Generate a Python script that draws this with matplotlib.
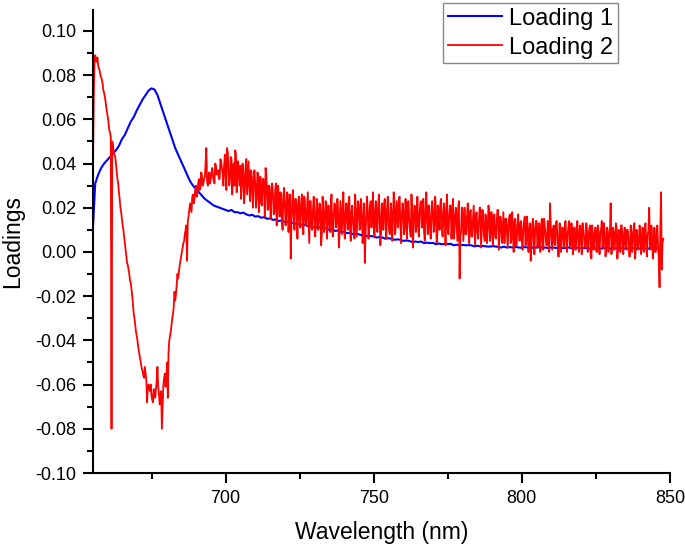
import numpy as np
import matplotlib
matplotlib.use("Agg")
import matplotlib.pyplot as plt
from matplotlib.ticker import MultipleLocator, FuncFormatter

plt.rcParams['font.family'] = ['Liberation Sans', 'DejaVu Sans']

# loading 1 (smooth), thousandths, sampled every 1 nm from 655 nm
loading1 = [
    5, 31, 35, 38, 40, 41.5, 43, 44.5, 46, 48,
    51, 53, 56, 59, 61, 64, 66.5, 69, 71, 73,
    74, 73.5, 71, 67, 63, 59, 55, 51, 47, 44,
    41, 38, 35, 32, 30, 28.5, 27, 25.5, 24, 23,
    22, 21, 20.5, 20, 19.5, 19, 18.5, 19, 18, 18,
    17.5, 17.8, 17, 16.5, 16.8, 16, 16.2, 15.5, 15.7, 15,
    15.2, 14.5, 14.7, 14, 14.2, 13.5, 13.7, 13, 13.2, 12.5,
    12.7, 12, 12.2, 11.5, 11.7, 11, 11.2, 11, 10.5, 10.7,
    10, 10.2, 9.5, 9.7, 9, 9.2, 8.5, 8.7, 8, 8.2,
    8, 7.5, 7.7, 7, 7.2, 7, 6.5, 6.8, 6.5, 6,
    6.2, 6, 5.5, 5.7, 5.5, 5, 5.2, 5, 4.5, 4.7,
    4.5, 4.7, 4, 4.2, 4, 4.1, 3.5, 3.8, 3.5, 3.6,
    3.5, 3.7, 3, 3.3, 3, 3.2, 3, 3.1, 3, 2.5,
    2.8, 2.5, 2.7, 2.5, 2.4, 2.6, 2.5, 2.3, 2, 2.4,
    2, 2.2, 2, 2.3, 2, 1.9, 2.2, 2, 2.1, 1.8,
    2, 2.2, 1.9, 2, 1.7, 2.1, 1.9, 1.8, 2, 1.7,
    1.9, 2, 1.6, 1.8, 1.9, 1.6, 1.8, 1.7, 1.5, 1.8,
    1.6, 1.7, 1.5, 1.8, 1.6, 1.5, 1.7, 1.6, 1.4, 1.7,
    1.5, 1.6, 1.4, 1.7, 1.5, 1.6, 1.4, 1.5, 1.6, 1.5,
    1.4, 1.6, 1.5,
]

# loading 2 (noisy), thousandths, sampled every 0.5 nm from 655 nm
loading2 = [
    10, 70, 89, 86, 84, 82, 79, 76, 72, 68,
    63, 58, 54, -80, 48, 44, 40, 33, 27, 20,
    15, 10, 4, -2, -6, -10, -14, -20, -28, -33,
    -38, -43, -47, -51, -54, -57, -55, -68, -60, -63,
    -65, -68, -64, -62, -52, -64, -66, -80, -60, -55,
    -58, -66, -40, -36, -30, -25, -22, -15, -12, -6,
    -2, 2, 5, 10, -4, 16, 22, 18, 26, 24,
    30, 27, 33, 29, 35, 31, 34, 47, 30, 36,
    33, 38, 32, 40, 35, 37, 33, 41, 36, 39,
    35, 47, 38, 33, 42, 36, 30, 44, 37, 34,
    39, 31, 36, 28, 42, 33, 30, 37, 26, 34,
    31, 24, 35, 29, 22, 33, 27, 38, 25, 30,
    21, 29, 26, 18, 31, 24, 20, 27, 14, 25,
    22, 17, 26, 20, -3, 23, 16, 24, 19, 21,
    15, 22, 18, 25, 13, 20, 16, 23, 11, 19,
    17, 12, 21, 15, 19, 8, 18, 14, 22, 16,
    13, 19, 10, 17, 21, 14, 18, 9, 16, 20,
    12, 17, 15, 22, 11, 18, 14, 6, 19, 15,
    21, 13, 17, 10, -5, 16, 19, 12, 23, 15,
    14, 18, 11, 20, 16, 9, 17, 22, 13, 19,
    15, 8, 18, 14, 21, 12, 17, 24, 13, 16,
    19, 11, 16, 22, 14, 7, 18, 13, 20, 15,
    12, 17, 23, 14, 9, 19, 15, 21, 11, 16,
    18, 13, 20, 8, 15, 22, 12, 17, 14, 19,
    10, 16, 21, 13, 6, 17, 12, 19, -12, 9,
    20, 13, 8, 16, 11, 18, 7, 14, 12, 17,
    9, 13, 20, 10, 15, 5, 14, 11, 18, 8,
    13, 16, 7, 12, 19, 9, 14, 4, 11, 15,
    8, 12, 17, 6, 10, 14, 3, 12, 9, 13,
    6, 10, 16, 5, 11, 8, -4, 12, 7, 10,
    14, 4, 9, 12, 6, 15, 8, 3, 11, 22,
    7, 10, 4, 13, 8, -2, 11, 6, 9, 12,
    5, 8, 14, 3, 10, 7, 1, 11, 6, 9,
    4, 13, 7, 2, 10, 6, 12, -3, 8, 5,
    11, 7, 3, 9, 14, 4, 8, 1, 10, 6,
    22, 3, 9, 5, 11, 2, 7, 12, 4, 8,
    3, 10, 6, -2, 9, 5, 13, 2, 7, 4,
    9, 1, 7, 11, 3, 8, 20, 2, 6, 5,
    0, 9, 3, -16, 27, 4,
]

# loading 2 in-between samples, thousandths, every 0.5 nm from 655.25 nm
loading2_mid = [
    40, 85, 87, 88, 83, 80, 78, 73, 70, 65,
    61, 55, 52, 50, 45, 43, 36, 31, 24, 18,
    12, 7, 1, -5, -8, -13, -17, -24, -30, -36,
    -40, -45, -49, -53, -56, -52, -58, -61, -62, -60,
    -67, -62, -66, -58, -61, -69, -63, -70, -57, -61,
    -50, -45, -38, -33, -28, -18, -19, -10, -9, -4,
    0, 4, 8, 12, 14, 19, 20, 25, 22, 28,
    25, 31, 28, 36, 30, 33, 40, 32, 34, 31,
    36, 34, 31, 39, 36, 33, 42, 38, 30, 44,
    28, 45, 30, 43, 26, 40, 46, 27, 41, 30,
    24, 40, 22, 38, 26, 41, 23, 36, 20, 37,
    20, 36, 18, 34, 21, 33, 16, 35, 19, 30,
    15, 31, 17, 28, 12, 30, 16, 26, 10, 29,
    12, 27, 9, 26, 14, 28, 10, 24, 6, 25,
    11, 26, 8, 24, 12, 27, 4, 23, 10, 25,
    7, 24, 10, 22, 3, 25, 9, 23, 6, 21,
    9, 26, 7, 22, 11, 24, 2, 23, 8, 27,
    6, 22, 10, 25, 5, 21, 9, 26, 7, 23,
    10, 24, 4, 22, 8, 25, 6, 21, 11, 27,
    7, 23, 9, 26, 3, 22, 10, 24, 6, 25,
    9, 22, 5, 27, 8, 23, 11, 25, 4, 22,
    8, 24, 6, 23, 10, 26, 2, 21, 9, 25,
    7, 22, 11, 24, 5, 27, 8, 21, 6, 23,
    9, 25, 4, 21, 10, 24, 7, 22, 3, 26,
    8, 21, 6, 24, 9, 20, 5, 23, 7, 20,
    5, 20, 8, 22, 4, 19, 7, 21, 3, 18,
    6, 20, 2, 19, 7, 17, 4, 21, 5, 18,
    3, 17, 6, 19, 1, 16, 5, 18, 4, 15,
    2, 16, 4, 18, 0, 15, 3, 17, 5, 14,
    1, 14, 3, 16, 0, 13, 2, 15, -1, 14,
    2, 13, 0, 15, 1, 12, 3, 14, 0, 13,
    1, 12, 3, 14, -2, 13, 0, 11, 2, 14,
    0, 12, 2, 13, -1, 11, 1, 14, 0, 12,
    -1, 11, 2, 13, 0, 10, -2, 12, 1, 11,
    0, 12, -1, 10, 2, 13, -2, 11, 0, 10,
    -1, 11, 1, 13, -3, 10, 0, 12, -1, 11,
    1, 10, -2, 12, 0, 11, -3, 10, 1, 12,
    -1, 11, 0, 13, -2, 10, 1, 12, -3, 11,
    0, 12, -4, 10, -8, 6,
]

y1 = np.array(loading1) / 1000
x1 = 655 + 1.0 * np.arange(len(y1))

xa = 655 + 0.5 * np.arange(len(loading2))
xb = 655.25 + 0.5 * np.arange(len(loading2_mid))
x2 = np.concatenate([xa, xb])
y2 = np.concatenate([loading2, loading2_mid]) / 1000
order = np.argsort(x2)
x2, y2 = x2[order], y2[order]

fig = plt.figure(figsize=(6.85, 5.5), dpi=100)
ax = fig.add_axes([0.136, 0.14, 0.842, 0.842])

ax.plot(x1, y1, color='#0000ff', linewidth=1.5, label='Loading 1')
ax.plot(x2, y2, color='#ff0000', linewidth=1.3, label='Loading 2')

ax.set_xlim(655.3, 850)
ax.set_ylim(-0.10, 0.1095)
ax.xaxis.set_major_locator(MultipleLocator(50))
ax.xaxis.set_minor_locator(MultipleLocator(25))
ax.yaxis.set_major_locator(MultipleLocator(0.02))
ax.yaxis.set_minor_locator(MultipleLocator(0.01))
ax.yaxis.set_major_formatter(FuncFormatter(lambda v, p: f"{v:.2f}".replace("-0.00", "0.00")))

for s in ['top', 'right']:
    ax.spines[s].set_visible(False)
for s in ['left', 'bottom']:
    ax.spines[s].set_linewidth(1.5)
ax.tick_params(which='major', length=7, width=1.5, labelsize=13, pad=5)
ax.tick_params(which='minor', length=4, width=1.5)

ax.set_xlabel('Wavelength (nm)', fontsize=16.5, labelpad=10)
ax.set_ylabel('Loadings', fontsize=16.5, labelpad=8)

leg = ax.legend(loc='upper right', bbox_to_anchor=(0.91, 1.015), borderaxespad=0,
                fontsize=17, fancybox=False, framealpha=1, edgecolor='#888888',
                handlelength=2.3, handletextpad=0.3, borderpad=0.2, labelspacing=0.3)
leg.get_frame().set_linewidth(1.0)

fig.savefig('out.png', dpi=100)
